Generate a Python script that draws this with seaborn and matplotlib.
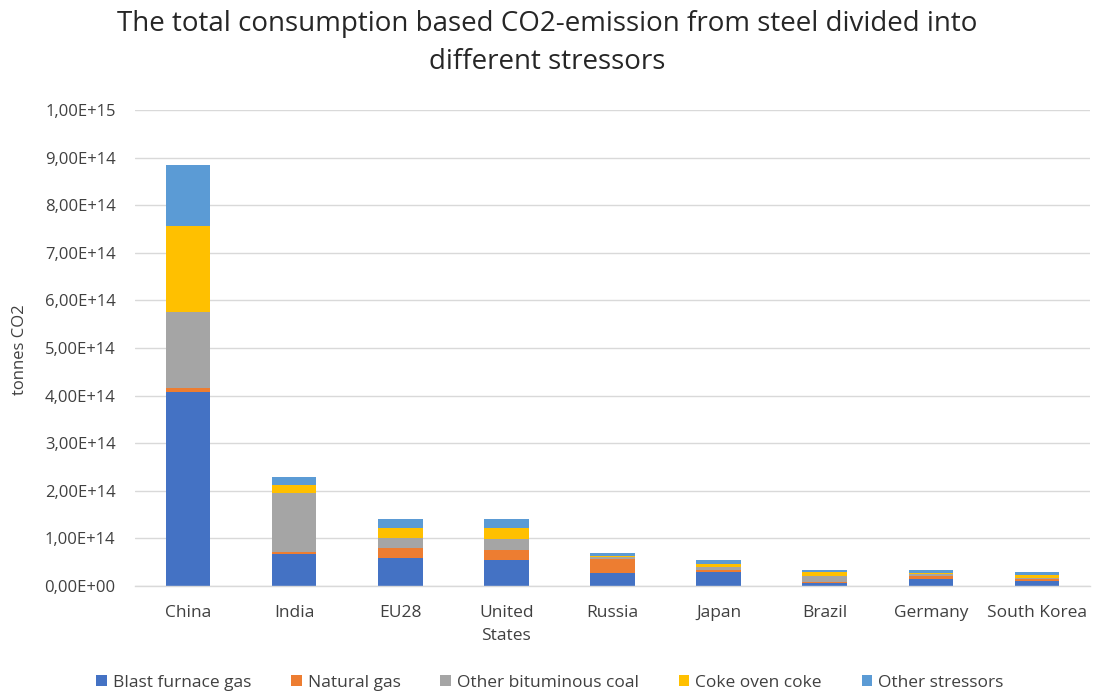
import numpy as np
import pandas as pd
import matplotlib
matplotlib.use("Agg")
import matplotlib.pyplot as plt
from matplotlib.ticker import FuncFormatter, MultipleLocator
import seaborn as sns

# Consumption-based CO2 emissions from steel (tonnes CO2), per region and stressor
regions = ["China", "India", "EU28", "United\nStates", "Russia", "Japan",
           "Brazil", "Germany", "South Korea"]
blast_furnace_gas = [4.08e14, 0.67e14, 0.58e14, 0.55e14, 0.27e14, 0.29e14, 0.07e14, 0.14e14, 0.10e14]
natural_gas = [0.09e14, 0.05e14, 0.22e14, 0.21e14, 0.30e14, 0.04e14, 0.02e14, 0.07e14, 0.04e14]
other_bituminous_coal = [1.59e14, 1.24e14, 0.21e14, 0.23e14, 0.03e14, 0.07e14, 0.12e14, 0.04e14, 0.03e14]
coke_oven_coke = [1.80e14, 0.16e14, 0.20e14, 0.22e14, 0.03e14, 0.06e14, 0.09e14, 0.03e14, 0.06e14]
other_stressors = [1.28e14, 0.16e14, 0.19e14, 0.19e14, 0.07e14, 0.09e14, 0.04e14, 0.06e14, 0.07e14]

series_names = ["Blast furnace gas", "Natural gas", "Other bituminous coal",
                "Coke oven coke", "Other stressors"]
series_values = [blast_furnace_gas, natural_gas, other_bituminous_coal,
                 coke_oven_coke, other_stressors]
colors = ["#4472C4", "#ED7D31", "#A5A5A5", "#FFC000", "#5B9BD5"]

sns.set_theme(style="white")
plt.rcParams["font.family"] = ["Open Sans", "DejaVu Sans"]

fig = plt.figure(figsize=(10.94, 6.94), dpi=100)
ax = fig.add_axes([135 / 1094, 1 - 586 / 694, (1090 - 135) / 1094, (586 - 110) / 694])

bottom = np.zeros(len(regions))
for name, vals, col in zip(series_names, series_values, colors):
    df = pd.DataFrame({"region": regions, "value": vals})
    sns.barplot(data=df, x="region", y="value", order=regions, color=col,
                bottom=bottom, width=0.42, ax=ax, label=name,
                edgecolor="none", linewidth=0, saturation=1)
    bottom = bottom + np.array(vals)

if ax.get_legend() is not None:
    ax.get_legend().remove()

ax.set_ylim(0, 1.0e15)
ax.set_xlim(-0.5, len(regions) - 0.5)
ax.yaxis.set_major_locator(MultipleLocator(1e14))
ax.yaxis.set_major_formatter(FuncFormatter(lambda v, p: f"{v:.2E}".replace(".", ",")))
ax.grid(axis="y", color="#d9d9d9", linewidth=1)
ax.set_axisbelow(True)
for s in ["top", "right", "left"]:
    ax.spines[s].set_visible(False)
ax.spines["bottom"].set_color("#d9d9d9")
ax.spines["bottom"].set_linewidth(1)
ax.tick_params(axis="y", length=0, labelsize=12, colors="#404040", pad=14)
ax.tick_params(axis="x", length=0, labelsize=12.5, colors="#404040", pad=14)
for t in ax.get_xticklabels():
    t.set_linespacing(1.55)
ax.set_xlabel("")
ax.set_ylabel("tonnes CO2", fontsize=12, color="#404040")
ax.yaxis.set_label_coords((28 - 135) / 955, (586 - 350) / 476)

fig.suptitle("The total consumption based CO2-emission from steel divided into\ndifferent stressors",
             x=547 / 1094, y=0.985, fontsize=20, color="#262626", linespacing=1.45)

handles, labels = ax.get_legend_handles_labels()
fig.legend(handles, labels, loc="center", bbox_to_anchor=(550 / 1094, 1 - 683 / 694),
           ncol=5, frameon=False, fontsize=12.5, handlelength=0.6, handleheight=0.6,
           handletextpad=0.35, columnspacing=2.3, labelcolor="#404040")

fig.savefig("out.png", dpi=100)
